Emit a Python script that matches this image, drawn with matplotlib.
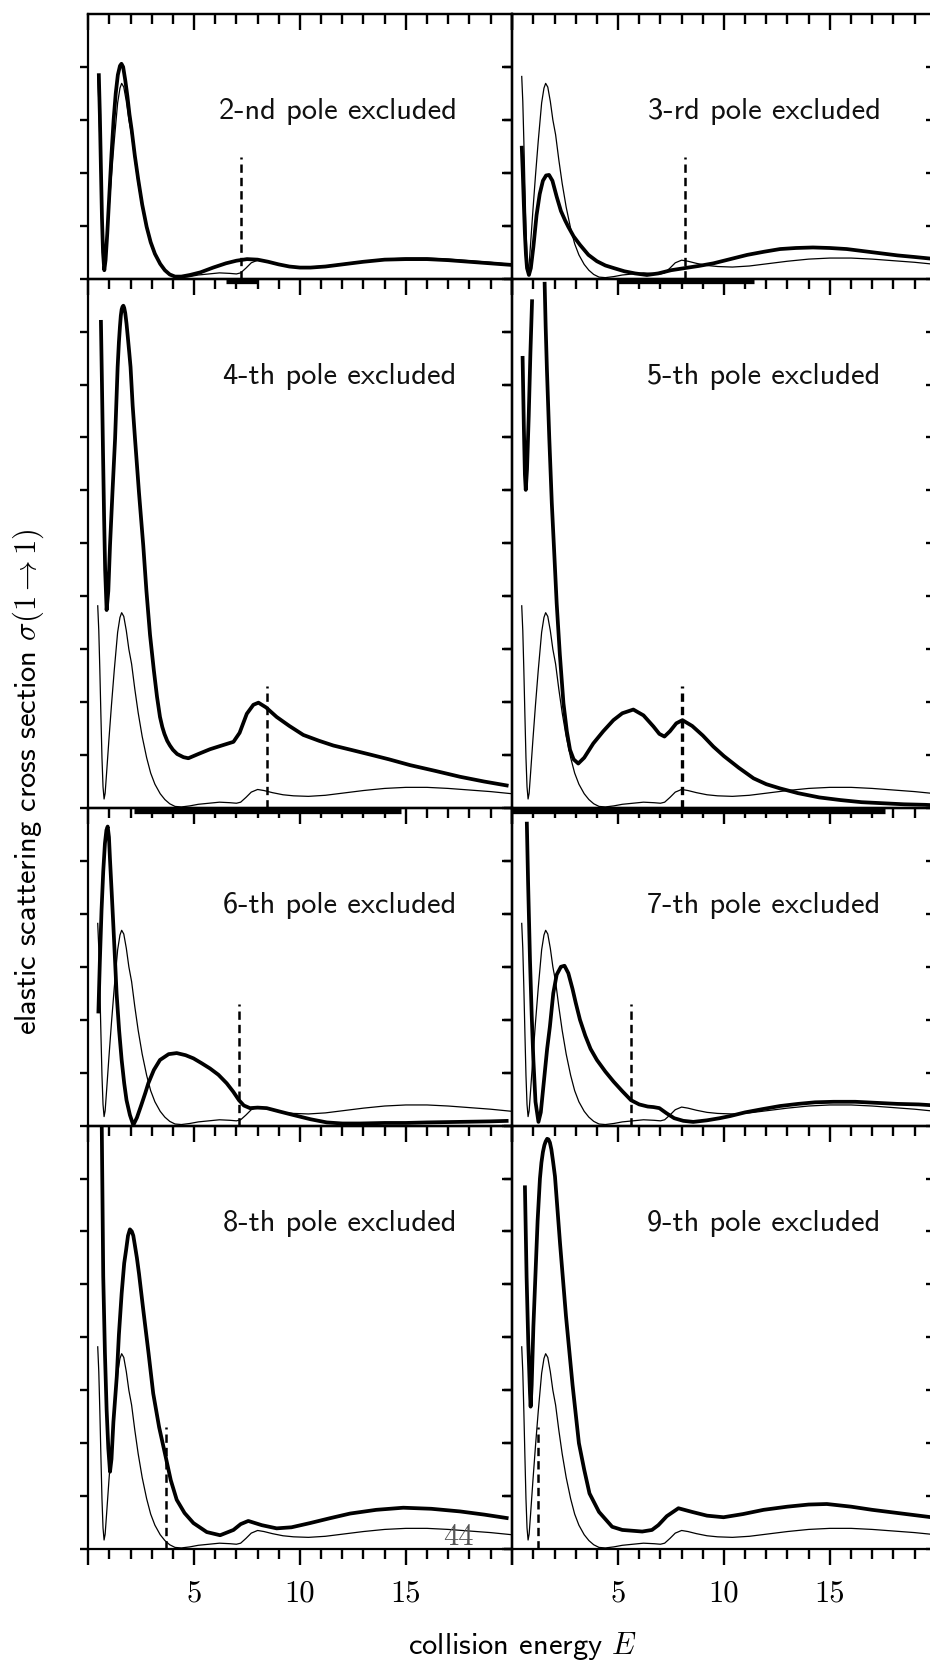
import matplotlib
matplotlib.use('Agg')
import matplotlib.pyplot as plt
import numpy as np
from matplotlib.ticker import MultipleLocator
from matplotlib.transforms import blended_transform_factory, offset_copy

plt.rcParams['mathtext.fontset'] = 'cm'
plt.rcParams['lines.scale_dashes'] = False
plt.rcParams['axes.linewidth'] = 1.6

NAN = float('nan')

# ---------------- data ----------------
# reference cross section (thin curve, all poles kept) - same in every panel
E_ref = [0.45, 0.5, 0.55, 0.6, 0.65, 0.7, 0.75, 0.8, 0.87, 0.98, 1.1, 1.23, 1.39, 1.5, 1.58,
         1.68, 1.8, 1.92, 2.05, 2.2, 2.36, 2.55, 2.76, 2.95, 3.15, 3.4, 3.62, 3.85, 4.1, 4.4,
         4.8, 5.2, 5.7, 6.2, 6.7, 7.0, 7.2, 7.45, 7.7, 8.0, 8.3, 8.7, 9.2, 9.7, 10.4, 11.2,
         12.0, 13.0, 14.0, 15.0, 16.0, 17.0, 18.0, 19.0, 20.0]
S_ref = [3.82, 3.35, 2.6, 1.75, 0.95, 0.4, 0.17, 0.28, 0.67, 1.3, 1.95, 2.6, 3.32, 3.6, 3.69,
         3.62, 3.35, 3.0, 2.72, 2.25, 1.8, 1.35, 0.95, 0.66, 0.45, 0.27, 0.16, 0.08, 0.03, 0.02,
         0.04, 0.07, 0.09, 0.11, 0.1, 0.09, 0.11, 0.2, 0.3, 0.35, 0.33, 0.29, 0.25, 0.23, 0.22, 0.24,
         0.28, 0.33, 0.37, 0.39, 0.39, 0.37, 0.34, 0.31, 0.27]

E_p2 = [0.5, 0.55, 0.6, 0.65, 0.7, 0.76, 0.82, 0.9, 1.0, 1.1, 1.2, 1.3, 1.4, 1.5, 1.57, 1.65,
        1.75, 1.85, 1.95, 2.05, 2.2, 2.36, 2.55, 2.76, 2.95, 3.15, 3.4, 3.62, 3.85, 4.1, 4.4,
        4.8, 5.3, 5.9, 6.5, 7.0, 7.5, 8.0, 8.5, 9.0, 9.5, 10.0, 10.5, 11.2, 12.0, 13.0, 14.0,
        15.0, 16.0, 17.0, 18.0, 19.0, 20.0]
S_p2 = [3.88, 3.1, 2.1, 1.15, 0.5, 0.16, 0.35, 0.85, 1.6, 2.35, 3.0, 3.5, 3.85, 4.02, 4.06, 4.0,
        3.75, 3.45, 3.1, 2.82, 2.33, 1.88, 1.4, 0.98, 0.69, 0.47, 0.28, 0.16, 0.08, 0.04, 0.04,
        0.07, 0.12, 0.21, 0.29, 0.34, 0.37, 0.36, 0.32, 0.27, 0.23, 0.21, 0.21, 0.23, 0.27, 0.32, 0.36,
        0.37, 0.37, 0.35, 0.32, 0.29, 0.26]

E_p3 = [0.45, 0.5, 0.55, 0.6, 0.65, 0.7, 0.79, 0.88, 1.0, 1.15, 1.3, 1.45, 1.6, 1.74, 1.9, 2.1,
        2.3, 2.5, 2.65, 2.9, 3.2, 3.6, 4.0, 4.4, 4.8, 5.3, 5.8, 6.36, 6.9, 7.5, 8.14, 8.8, 9.5,
        10.3, 11.1, 11.9, 12.65, 13.4, 14.2, 15.0, 15.8, 16.6, 17.4, 18.2, 19.0, 20.0]
S_p3 = [2.51, 2.0, 1.4, 0.85, 0.45, 0.2, 0.07, 0.2, 0.6, 1.2, 1.6, 1.85, 1.95, 1.96, 1.85, 1.55,
        1.28, 1.1, 0.98, 0.8, 0.64, 0.45, 0.33, 0.25, 0.2, 0.14, 0.1, 0.07, 0.1, 0.16, 0.2, 0.24, 0.29,
        0.37, 0.45, 0.51, 0.56, 0.58, 0.59, 0.58, 0.56, 0.52, 0.48, 0.44, 0.41, 0.37]

E_p4 = [0.6, 0.65, 0.7, 0.75, 0.8, 0.87, 0.95, 1.03, 1.15, 1.27, 1.39, 1.45, 1.5, 1.54, 1.58,
        1.62, 1.66, 1.7, 1.75, 1.81, 1.87, 1.94, 2.0, 2.1, 2.21, 2.4, 2.6, 2.75, 2.92, 3.1, 3.25,
        3.39, 3.5, 3.6, 3.73, 3.86, 4.0, 4.2, 4.5, 4.73, 5.2, 5.75, 6.3, 6.86, 7.15, 7.49, 7.8,
        8.04, 8.4, 8.9, 9.5, 10.16, 10.9, 11.58, 12.4, 13.31, 14.2, 15.2, 16.4, 17.56, 18.7,
        19.85]
S_p4 = [9.22, 8.0, 6.7, 5.5, 4.5, 3.74, 4.1, 4.96, 6.0, 6.98, 8.33, 8.8, 9.1, 9.3, 9.42,
        9.47, 9.49, 9.45, 9.35, 9.15, 8.9, 8.6, 8.33, 7.6, 6.98, 5.95, 4.96, 4.1, 3.27, 2.6, 2.1,
        1.72, 1.53, 1.4, 1.27, 1.18, 1.1, 1.02, 0.96, 0.94, 1.02, 1.11, 1.18, 1.25, 1.42, 1.78, 1.95,
        1.99, 1.9, 1.72, 1.55, 1.38, 1.27, 1.18, 1.1, 1.01, 0.92, 0.81, 0.7, 0.59, 0.5,
        0.42]

E_p5 = [0.49, 0.55, 0.6, 0.64, 0.7, 0.78, 0.86, 0.94, 1.2, 1.53, 1.58, 1.64, 1.75, 1.87, 2.0,
        2.1, 2.25, 2.42, 2.58, 2.73, 2.9, 3.12, 3.4, 3.83, 4.3, 4.78, 5.2, 5.72, 6.2, 6.67, 6.95,
        7.19, 7.45, 7.75, 8.04, 8.5, 9.0, 9.5, 10.0, 10.7, 11.4, 12.0, 12.65, 13.5, 14.5, 15.5,
        16.5, 17.5, 18.5, 19.5, 20.0]
S_p5 = [8.54, 7.2, 6.3, 6.01, 6.4, 7.4, 8.6, 9.61, NAN, 9.94, 9.1, 8.28, 7.0, 5.76, 4.7,
        3.87, 2.9, 1.98, 1.45, 1.1, 0.92, 0.84, 0.95, 1.22, 1.45, 1.66, 1.79, 1.86, 1.75, 1.54, 1.4,
        1.35, 1.45, 1.6, 1.66, 1.55, 1.37, 1.16, 0.98, 0.76, 0.56, 0.45, 0.37, 0.28, 0.2, 0.15,
        0.11, 0.09, 0.07, 0.06, 0.05]

E_p6 = [0.48, 0.55, 0.63, 0.71, 0.79, 0.86, 0.92, 0.98, 1.03, 1.11, 1.19, 1.27, 1.34, 1.46,
        1.58, 1.7, 1.81, 1.97, 2.13, 2.3, 2.5, 2.7, 2.84, 3.1, 3.39, 3.8, 4.18, 4.6, 4.97, 5.35,
        5.75, 6.15, 6.54, 6.85, 7.12, 7.35, 7.64, 8.0, 8.43, 9.0, 9.69, 10.5, 11.27, 12.0, 12.84,
        14.0, 15.0, 16.0, 17.5, 19.0, 19.85]
S_p6 = [2.12, 3.1, 4.07, 4.8, 5.33, 5.58, 5.65, 5.45, 5.02, 4.4, 3.76, 3.1, 2.5, 1.8,
        1.24, 0.8, 0.48, 0.2, 0.01, 0.15, 0.38, 0.62, 0.8, 1.05, 1.24, 1.35, 1.37, 1.33, 1.27, 1.18,
        1.08, 0.96, 0.8, 0.64, 0.48, 0.38, 0.33, 0.34, 0.33, 0.27, 0.2, 0.12, 0.06, 0.04, 0.04,
        0.05, 0.05, 0.06, 0.07, 0.08, 0.09]

E_p7 = [0.69, 0.75, 0.84, 0.92, 1.0, 1.1, 1.24, 1.35, 1.5, 1.65, 1.78, 1.94, 2.1, 2.3, 2.47,
        2.65, 2.85, 3.0, 3.2, 3.45, 3.7, 4.0, 4.4, 4.79, 5.2, 5.61, 6.0, 6.4, 6.67, 6.95, 7.3,
        7.65, 8.08, 8.55, 9.2, 9.8, 10.29, 11.0, 11.8, 12.65, 13.5, 14.3, 15.18, 16.2, 17.2,
        18.2, 19.2, 20.0]
S_p7 = [5.74, 4.6, 3.13, 2.1, 1.24, 0.45, 0.07, 0.25, 0.85, 1.45, 1.87, 2.5, 2.85, 3.0, 3.02,
        2.88, 2.58, 2.32, 2.0, 1.7, 1.45, 1.24, 1.02, 0.83, 0.65, 0.48, 0.4, 0.36, 0.35, 0.33, 0.23,
        0.14, 0.09, 0.07, 0.1, 0.14, 0.18, 0.25, 0.31, 0.37, 0.41, 0.44, 0.45, 0.45, 0.43,
        0.41, 0.4, 0.38]

E_p8 = [0.62, 0.64, 0.67, 0.71, 0.79, 0.87, 0.95, 1.03, 1.1, 1.19, 1.35, 1.45, 1.58, 1.7,
        1.79, 1.88, 1.97, 2.06, 2.13, 2.2, 2.3, 2.4, 2.6, 2.85, 3.07, 3.35, 3.66, 3.9, 4.18,
        4.55, 4.97, 5.6, 6.23, 6.86, 7.2, 7.56, 8.2, 8.9, 9.6, 10.48, 11.4, 12.37, 13.6, 14.88,
        16.2, 17.56, 18.7, 19.85]
S_p8 = [8.6, 8.0, 6.8, 5.15, 3.7, 2.63, 1.9, 1.46, 1.7, 2.4, 3.26, 4.05, 4.83, 5.4,
        5.65, 5.92, 6.04, 6.0, 5.92, 5.75, 5.5, 5.2, 4.52, 3.7, 2.94, 2.3, 1.74, 1.3, 0.93,
        0.68, 0.49, 0.32, 0.26, 0.36, 0.47, 0.53, 0.45, 0.39, 0.41, 0.49, 0.58, 0.67, 0.74, 0.78,
        0.76, 0.71, 0.65, 0.58]

E_p9 = [0.6, 0.64, 0.68, 0.76, 0.84, 0.87, 0.92, 1.0, 1.1, 1.2, 1.31, 1.38, 1.45, 1.52, 1.58,
        1.65, 1.71, 1.78, 1.85, 1.93, 2.02, 2.26, 2.54, 2.85, 3.15, 3.4, 3.65, 4.1, 4.72, 5.2,
        6.14, 6.6, 6.9, 7.3, 7.85, 8.5, 9.2, 9.98, 10.9, 11.87, 13.0, 14.0, 14.86, 16.0, 17.0,
        18.0, 19.0, 20.0]
S_p9 = [6.87, 6.0, 5.14, 3.88, 2.94, 2.69, 3.1, 4.2, 5.2, 6.2, 7.0, 7.3, 7.5, 7.63, 7.7,
        7.75, 7.74, 7.68, 7.55, 7.32, 7.04, 5.77, 4.4, 3.1, 2.0, 1.5, 1.05, 0.7, 0.42, 0.36,
        0.33, 0.36, 0.45, 0.62, 0.77, 0.7, 0.63, 0.6, 0.66, 0.74, 0.8, 0.84, 0.85, 0.8, 0.74,
        0.69, 0.64, 0.59]

E_panels = [E_p2, E_p3, E_p4, E_p5, E_p6, E_p7, E_p8, E_p9]
S_panels = [S_p2, S_p3, S_p4, S_p5, S_p6, S_p7, S_p8, S_p9]

pole_labels = ['2-nd pole excluded', '3-rd pole excluded', '4-th pole excluded',
               '5-th pole excluded', '6-th pole excluded', '7-th pole excluded',
               '8-th pole excluded', '9-th pole excluded']
dash_E = [7.23, 8.14, 8.43, 8.03, 7.12, 5.62, 3.66, 1.21]
dash_top = 2.3
bar_start = [6.5, 4.95, 2.16, 0.0]
bar_end = [8.0, 11.4, 14.76, 17.6]
row_ymax = [5, 10, 6, 8]

xtick_pos = [0, 5, 10, 15, 20]
xtick_labels = ['', '5', '10', '15', '']
page_number = '44'

# ---------------- layout (pixels) ----------------
W, H = 930, 1662
col_x = [88.2, 512.2]
col_w = 423.5
row_top = [14, 278.7, 808, 1125.6]
row_bot = [278.7, 808, 1125.6, 1549]

SANS = ['cmss10', 'DejaVu Sans']
TW = 1.7

fig = plt.figure(figsize=(W / 100, H / 100), dpi=100)

for i in range(8):
    row, col = divmod(i, 2)
    top, bot = row_top[row], row_bot[row]
    ax = fig.add_axes([col_x[col] / W, 1 - bot / H, col_w / W, (bot - top) / H])
    ax.patch.set_visible(False)
    n = row_ymax[row]
    ax.set_xlim(0, 20)
    ax.set_ylim(0, n)
    for s in ax.spines.values():
        s.set_linewidth(1.6)

    ax.plot(E_ref, S_ref, color='black', lw=0.9, solid_joinstyle='round')
    ax.plot(E_panels[i], S_panels[i], color='black', lw=2.7,
            solid_joinstyle='round', solid_capstyle='butt')
    ax.plot([dash_E[i], dash_E[i]], [0, dash_top], color='black',
            lw=2.4 if i == 3 else 1.8, ls=(0, (6.0, 3.6)))

    ax.text(17.41, n - 1.85, pole_labels[i], ha='right', va='center',
            fontsize=22, family=SANS, color='#111111')

    if i < 4:
        tr = blended_transform_factory(ax.transData, ax.transAxes)
        tr = offset_copy(tr, fig=fig, x=0, y=-2.6, units='dots')
        ax.plot([bar_start[i], bar_end[i]], [0, 0], color='black', lw=3.8,
                solid_capstyle='butt', transform=tr, clip_on=False)

    # x ticks
    is_bottom = (row == 3)
    ax.set_xticks(xtick_pos, labels=xtick_labels if is_bottom else [''] * 5)
    ax.xaxis.set_minor_locator(MultipleLocator(1))
    if is_bottom:
        ax.tick_params(axis='x', which='both', direction='out', bottom=True, top=False,
                       width=TW, labelsize=22, labelfontfamily='cmr10', pad=11)
        ax.tick_params(axis='x', which='major', length=11.5)
        ax.tick_params(axis='x', which='minor', length=7)
    else:
        ax.tick_params(axis='x', which='both', bottom=False, top=False,
                       labelbottom=False)
    secx = ax.secondary_xaxis('top')
    secx.set_xticks(xtick_pos)
    secx.xaxis.set_minor_locator(MultipleLocator(1))
    secx.tick_params(axis='x', which='both', direction='in', width=TW,
                     labeltop=False, labelbottom=False)
    secx.tick_params(axis='x', which='major', length=11.5)
    secx.tick_params(axis='x', which='minor', length=7)
    secx.spines['top'].set_linewidth(1.6)

    # y ticks
    ax.set_yticks(list(range(n)))
    ax.tick_params(axis='y', which='major', direction='out', left=True, right=False,
                   labelleft=False, length=5.5, width=TW)
    secy = ax.secondary_yaxis('right')
    secy.set_yticks(list(range(n)))
    secy.tick_params(axis='y', which='major', direction='in', length=7, width=TW,
                     labelright=False, labelleft=False)
    secy.spines['right'].set_linewidth(1.6)

    if i == 6:
        ax.text(17.48, 0.23, page_number, ha='center', va='center', fontsize=22,
                family='cmr10', color='#555555')

fig.text(28 / W, 1 - 781.5 / H, r'elastic scattering cross section $\sigma(1\rightarrow1)$',
         rotation=90, ha='center', va='center', fontsize=22, family=SANS)
fig.text(522 / W, 1 - 1646 / H, r'collision energy $E$', ha='center', va='center',
         fontsize=22, family=SANS)

fig.savefig('out.png', dpi=100)
